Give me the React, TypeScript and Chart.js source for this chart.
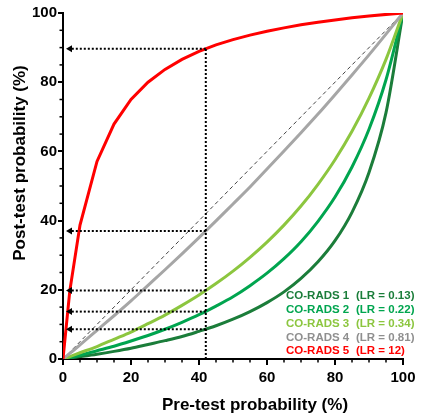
import React, { useEffect, useRef } from "react";
import { Chart, registerables } from "chart.js";

Chart.register(...registerables);

const PRE = [0, 2, 5, 10, 15, 20, 25, 30, 35, 40, 45, 50, 55, 60, 65, 70, 75, 80, 85, 90, 95, 100];
const CORADS1 = [0, 0.3, 0.7, 1.4, 2.2, 3.1, 4.2, 5.3, 6.5, 8.0, 9.6, 11.5, 13.7, 16.3, 19.4, 23.3, 28.1, 34.2, 42.4, 53.9, 71.2, 100];
const CORADS2 = [0, 0.4, 1.1, 2.4, 3.7, 5.2, 6.8, 8.6, 10.6, 12.8, 15.3, 18.0, 21.2, 24.8, 29.0, 33.9, 39.8, 46.8, 55.5, 66.4, 80.7, 100];
const CORADS3 = [0, 0.7, 1.8, 3.6, 5.7, 7.8, 10.2, 12.7, 15.5, 18.5, 21.8, 25.4, 29.4, 33.8, 38.7, 44.2, 50.5, 57.6, 65.8, 75.4, 86.6, 100];
const CORADS4 = [0, 1.6, 4.1, 8.3, 12.5, 16.8, 21.3, 25.8, 30.4, 35.1, 39.9, 44.8, 49.7, 54.9, 60.1, 65.4, 70.8, 76.4, 82.1, 87.9, 93.9, 100];
const CORADS5 = [0, 19.7, 38.7, 57.1, 67.9, 75.0, 80.0, 83.7, 86.6, 88.9, 90.8, 92.3, 93.6, 94.7, 95.7, 96.6, 97.3, 98.0, 98.6, 99.1, 99.6, 100];

const DIAG_X = [0, 100];
const DIAG_Y = [0, 100];

const GUIDE_X = 42;
const GUIDE_Y = [89.7, 37.0, 19.8, 13.7, 8.6];

const LEGEND_NAMES = ["CO-RADS 1", "CO-RADS 2", "CO-RADS 3", "CO-RADS 4", "CO-RADS 5"];
const LEGEND_LR = ["(LR = 0.13)", "(LR = 0.22)", "(LR = 0.34)", "(LR = 0.81)", "(LR = 12)"];
const COLORS = ["#1b7d3a", "#00a54f", "#8cc63f", "#a6a6a6", "#ff0000"];
const TEXT_COLORS = ["#1b7d3a", "#00a54f", "#8cc63f", "#8f8f8f", "#ff0000"];

const X_TITLE = "Pre-test probability (%)";
const Y_TITLE = "Post-test probability (%)";

const FONT = 'Arial, "Liberation Sans", sans-serif';

const pts = (xs: number[], ys: number[]) => xs.map((x, i) => ({ x, y: ys[i] }));

const overlay = {
  id: "overlay",
  afterDatasetsDraw(chart: any) {
    const { ctx, chartArea, scales } = chart;
    const xs = scales.x;
    const ys = scales.y;
    const gx = xs.getPixelForValue(GUIDE_X);
    const x0 = xs.getPixelForValue(0);
    const y0 = ys.getPixelForValue(0);
    ctx.save();
    ctx.strokeStyle = "#000";
    ctx.fillStyle = "#000";
    ctx.lineWidth = 2;
    ctx.setLineDash([2, 2]);
    ctx.beginPath();
    ctx.moveTo(gx, y0);
    ctx.lineTo(gx, ys.getPixelForValue(GUIDE_Y[0]));
    ctx.stroke();
    GUIDE_Y.forEach((v) => {
      const py = ys.getPixelForValue(v);
      ctx.beginPath();
      ctx.moveTo(gx, py);
      ctx.lineTo(x0 + 8, py);
      ctx.stroke();
    });
    ctx.setLineDash([]);
    GUIDE_Y.forEach((v) => {
      const py = ys.getPixelForValue(v);
      ctx.beginPath();
      ctx.moveTo(x0 + 3, py);
      ctx.lineTo(x0 + 9, py - 3.5);
      ctx.lineTo(x0 + 9, py + 3.5);
      ctx.closePath();
      ctx.fill();
    });
    // legend text
    ctx.font = `bold 11.5px ${FONT}`;
    ctx.textBaseline = "middle";
    ctx.textAlign = "left";
    const lx1 = chartArea.right - 117;
    const lx2 = chartArea.right - 47;
    LEGEND_NAMES.forEach((n, i) => {
      const py = chartArea.bottom - 63 + i * 13.8;
      ctx.fillStyle = TEXT_COLORS[i];
      ctx.fillText(n, lx1, py);
      ctx.fillText(LEGEND_LR[i], lx2, py);
    });
    ctx.restore();
  },
  afterDraw(chart: any) {
    const { ctx, chartArea, scales } = chart;
    const xs = scales.x;
    const ys = scales.y;
    ctx.save();
    ctx.strokeStyle = "#000";
    ctx.lineWidth = 1.5;
    for (let v = 5; v < 100; v += 5) {
      if (v % 20 === 0) continue;
      const px = xs.getPixelForValue(v);
      ctx.beginPath();
      ctx.moveTo(px, chartArea.bottom);
      ctx.lineTo(px, chartArea.bottom + 3.5);
      ctx.stroke();
      const py = ys.getPixelForValue(v);
      ctx.beginPath();
      ctx.moveTo(chartArea.left, py);
      ctx.lineTo(chartArea.left - 3.5, py);
      ctx.stroke();
    }
    ctx.fillStyle = "#000";
    ctx.font = `bold 17px ${FONT}`;
    ctx.textAlign = "center";
    ctx.textBaseline = "middle";
    ctx.fillText(X_TITLE, (chartArea.left + chartArea.right) / 2 + 22, chartArea.bottom + 46);
    ctx.translate(20, (chartArea.top + chartArea.bottom) / 2 - 23);
    ctx.rotate(-Math.PI / 2);
    ctx.fillText(Y_TITLE, 0, 0);
    ctx.restore();
  },
};

export default function App() {
  const ref = useRef<HTMLCanvasElement | null>(null);
  useEffect(() => {
    document.body.style.margin = "0";
    if (!ref.current) return;
    Chart.defaults.font.family = FONT;
    const seriesList = [CORADS1, CORADS2, CORADS3, CORADS4, CORADS5];
    const datasets: any[] = [
      {
        label: "diag",
        data: pts(DIAG_X, DIAG_Y),
        borderColor: "#444",
        borderWidth: 1,
        borderDash: [4, 3],
        pointRadius: 0,
        order: 10,
      },
    ];
    seriesList.forEach((s, i) => {
      datasets.push({
        label: LEGEND_NAMES[i],
        data: pts(PRE, s),
        borderColor: COLORS[i],
        borderWidth: 3,
        pointRadius: 0,
        tension: 0,
        cubicInterpolationMode: i === 4 ? "default" : "monotone",
        order: 5 - i,
      });
    });
    const chart = new Chart(ref.current, {
      type: "line",
      data: { datasets },
      options: {
        responsive: false,
        animation: false,
        layout: { padding: { top: 13, right: 19, left: 0, bottom: 0 } },
        plugins: { legend: { display: false }, tooltip: { enabled: false } },
        scales: {
          x: {
            type: "linear",
            min: 0,
            max: 100,
            ticks: { stepSize: 20, color: "#000", font: { size: 15, weight: "bold" }, padding: 4 },
            grid: { drawOnChartArea: false, drawTicks: true, tickLength: 6, color: "#000", lineWidth: 2 },
            border: { display: true, color: "#000", width: 2 },
            afterFit: (s: any) => { s.height = 60; },
          },
          y: {
            type: "linear",
            min: 0,
            max: 100,
            ticks: { stepSize: 20, color: "#000", font: { size: 15, weight: "bold" }, padding: 1 },
            grid: { drawOnChartArea: false, drawTicks: true, tickLength: 5, color: "#000", lineWidth: 2 },
            border: { display: true, color: "#000", width: 2 },
            afterFit: (s: any) => { s.width = 63; },
          },
        },
      } as any,
      plugins: [overlay],
    });
    return () => chart.destroy();
  }, []);
  return (
    <div style={{ position: "absolute", left: 0, top: 0, width: 422, height: 419, background: "#fff" }}>
      <canvas ref={ref} width={422} height={419} />
    </div>
  );
}
